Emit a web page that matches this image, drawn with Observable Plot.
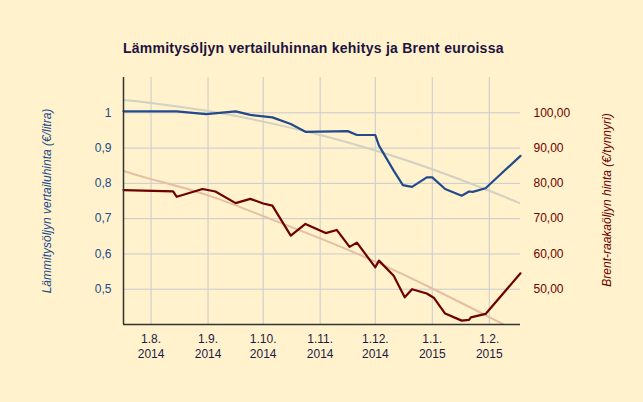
<!DOCTYPE html>
<html>
<head>
<meta charset="utf-8">
<script src="https://cdn.jsdelivr.net/npm/d3@7"></script>
<script src="https://cdn.jsdelivr.net/npm/@observablehq/plot@0.6"></script>
<style>
  html, body { margin: 0; padding: 0; background: #fff2cc; }
  #chart { width: 643px; height: 402px; }
  svg { font-family: "Liberation Sans", Arial, sans-serif; }
</style>
</head>
<body>
<div id="chart"></div>
<script>
// Heating oil reference price (€/litre)
const oilDates = ["2014-07-17","2014-08-15","2014-08-31","2014-09-16","2014-09-24","2014-10-06","2014-10-16","2014-10-24","2014-11-16","2014-11-21","2014-12-01","2014-12-03","2014-12-11","2014-12-16","2014-12-21","2014-12-29","2015-01-01","2015-01-08","2015-01-17","2015-01-21","2015-01-23","2015-01-30","2015-02-18"];
const oilValues = [1.004,1.004,0.996,1.004,0.994,0.987,0.968,0.946,0.948,0.937,0.937,0.907,0.836,0.795,0.790,0.817,0.817,0.784,0.765,0.777,0.776,0.786,0.878];

// Brent crude price (€/barrel)
const brentDates = ["2014-07-17","2014-08-13","2014-08-15","2014-08-29","2014-09-05","2014-09-16","2014-09-24","2014-10-01","2014-10-06","2014-10-16","2014-10-24","2014-11-04","2014-11-10","2014-11-17","2014-11-21","2014-12-01","2014-12-03","2014-12-11","2014-12-17","2014-12-21","2014-12-29","2015-01-02","2015-01-08","2015-01-17","2015-01-21","2015-01-22","2015-01-30","2015-02-18"];
const brentValues = [78.1,77.7,76.2,78.4,77.7,74.4,75.6,74.3,73.7,65.2,68.5,65.9,66.8,62.0,63.2,56.2,58.1,53.8,47.7,50.0,48.8,47.5,43.1,41.1,41.3,42.0,43.0,54.5];

// Trend lines
const trendDates = ["2014-07-17","2014-08-01","2014-09-01","2014-10-01","2014-11-01","2014-12-01","2015-01-01","2015-02-01","2015-02-18"];
const oilTrend = [1.036,1.028,1.005,0.975,0.937,0.893,0.840,0.779,0.743];
const brentTrend = [83.5,81.2,76.6,70.7,64.4,57.8,50.2,42.1,37.6];

// Axis ticks
const leftTicks = [0.5,0.6,0.7,0.8,0.9,1.0];
const monthTicks = ["2014-08-01","2014-09-01","2014-10-01","2014-11-01","2014-12-01","2015-01-01","2015-02-01"];

const parse = d3.utcParse("%Y-%m-%d");
const oil = oilDates.map((d,i) => ({date: parse(d), v: oilValues[i]}));
const brent = brentDates.map((d,i) => ({date: parse(d), v: brentValues[i] / 100}));
const oilT = trendDates.map((d,i) => ({date: parse(d), v: oilTrend[i]}));
const brentT = trendDates.map((d,i) => ({date: parse(d), v: brentTrend[i] / 100}));
const xTicks = monthTicks.map(parse);

const blue = "#234a8c", red = "#6e0000", grid = "#c9c9d3";

const chart = Plot.plot({
  width: 643,
  height: 402,
  marginLeft: 123,
  marginRight: 123,
  marginTop: 77,
  marginBottom: 78,
  style: {background: "#fff2cc", fontSize: "12px", fontFamily: "Liberation Sans, Arial, sans-serif"},
  x: {type: "utc", domain: [parse("2014-07-17"), parse("2015-02-18")]},
  y: {domain: [0.4, 1.1]},
  marks: [
    Plot.gridX(xTicks, {stroke: grid, strokeOpacity: 1, strokeWidth: 1}),
    Plot.gridY(leftTicks, {stroke: grid, strokeOpacity: 1, strokeWidth: 1}),
    Plot.line(oilT, {x: "date", y: "v", stroke: "#d2d1c2", strokeWidth: 2, curve: "natural", clip: true}),
    Plot.line(brentT, {x: "date", y: "v", stroke: "#e4bfa2", strokeWidth: 2, curve: "natural", clip: true}),
    Plot.line(oil, {x: "date", y: "v", stroke: blue, strokeWidth: 2.2}),
    Plot.line(brent, {x: "date", y: "v", stroke: red, strokeWidth: 2.2}),
    Plot.axisX({ticks: xTicks, tickSize: 0, tickPadding: 8, fill: "#1e1a48", lineHeight: 1.25,
      tickFormat: d => `${d.getUTCDate()}.${d.getUTCMonth()+1}.\n${d.getUTCFullYear()}`, label: null}),
    Plot.axisY({anchor: "left", ticks: leftTicks, tickSize: 0, tickPadding: 12, fill: blue,
      tickFormat: v => String(+v.toFixed(2)).replace(".", ","), label: null}),
    Plot.axisY({anchor: "right", ticks: leftTicks, tickSize: 0, tickPadding: 13, fill: red,
      tickFormat: v => (v * 100).toFixed(2).replace(".", ","), label: null}),
    Plot.ruleX([parse("2014-07-17")], {stroke: "#333", strokeWidth: 1.5}),
    Plot.ruleY([0.4], {stroke: "#333", strokeWidth: 1.5})
  ]
});

const svg = d3.select(chart);
svg.append("text")
  .attr("x", 123).attr("y", 53)
  .attr("text-anchor", "start")
  .attr("font-size", 14).attr("font-weight", "bold")
  .attr("letter-spacing", "0.25px")
  .attr("fill", "#1e1240")
  .attr("font-family", "Liberation Sans, Arial, sans-serif")
  .text("Lämmitysöljyn vertailuhinnan kehitys ja Brent euroissa");
svg.append("text")
  .attr("transform", "translate(51,201) rotate(-90)")
  .attr("text-anchor", "middle")
  .attr("font-size", 12).attr("font-style", "italic")
  .attr("fill", blue)
  .attr("font-family", "Liberation Sans, Arial, sans-serif")
  .text("Lämmitysöljyn vertailuhinta (€/litra)");
svg.append("text")
  .attr("transform", "translate(611,200) rotate(-90)")
  .attr("text-anchor", "middle")
  .attr("font-size", 12).attr("font-style", "italic")
  .attr("fill", red)
  .attr("font-family", "Liberation Sans, Arial, sans-serif")
  .text("Brent-raakaöljyn hinta (€/tynnyri)");

document.getElementById("chart").appendChild(chart);
</script>
</body>
</html>
